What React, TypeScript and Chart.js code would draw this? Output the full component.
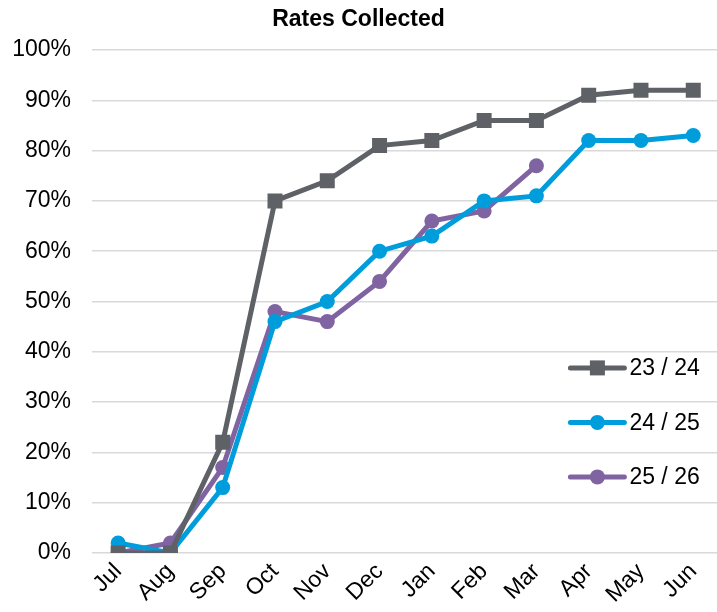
import React, { useEffect, useRef } from "react";
import { Chart, registerables } from "chart.js";

Chart.register(...registerables);

const titleText = "Rates Collected";
const months = ["Jul", "Aug", "Sep", "Oct", "Nov", "Dec", "Jan", "Feb", "Mar", "Apr", "May", "Jun"];
const labels2324 = "23 / 24";
const labels2425 = "24 / 25";
const labels2526 = "25 / 26";
const values2324 = [0, 0, 22, 70, 74, 81, 82, 86, 86, 91, 92, 92];
const values2425 = [2, 0, 13, 46, 50, 60, 63, 70, 71, 82, 82, 83];
const values2526 = [0, 2, 17, 48, 46, 54, 66, 68, 77];
const yTicks = [0, 10, 20, 30, 40, 50, 60, 70, 80, 90, 100];

const FONT = "'Liberation Sans', Arial, sans-serif";
const VIEW_W = 717;

const overlayPlugin = {
  id: "overlay",
  afterDraw(chart: any) {
    const ctx = chart.ctx;
    ctx.save();
    // title
    ctx.fillStyle = "#000";
    ctx.font = `bold 23px ${FONT}`;
    ctx.textAlign = "center";
    ctx.textBaseline = "middle";
    ctx.fillText(titleText, VIEW_W / 2, 20);

    // legend
    const ys = chart.scales.y;
    const baseY = ys.getPixelForValue(36.8);
    chart.data.datasets.forEach((ds: any, i: number) => {
      const y = baseY + i * 54.5;
      const x0 = chart.chartArea.right - 149;
      const x1 = x0 + 54;
      ctx.strokeStyle = ds.borderColor;
      ctx.lineWidth = 5;
      ctx.lineCap = "round";
      ctx.beginPath();
      ctx.moveTo(x0, y);
      ctx.lineTo(x1, y);
      ctx.stroke();
      ctx.fillStyle = ds.borderColor;
      const cx = (x0 + x1) / 2;
      if (ds.pointStyle === "rect") {
        ctx.fillRect(cx - 7.5, y - 7.5, 15, 15);
      } else {
        ctx.beginPath();
        ctx.arc(cx, y, 7.5, 0, Math.PI * 2);
        ctx.fill();
      }
      ctx.fillStyle = "#000";
      ctx.font = `23px ${FONT}`;
      ctx.textBaseline = "middle";
      ctx.textAlign = "left";
      ctx.fillText(ds.label, x1 + 5, y + 1);
    });
    ctx.restore();
  },
};

export default function App() {
  const ref = useRef<HTMLCanvasElement | null>(null);
  useEffect(() => {
    if (!ref.current) return;
    const chart = new Chart(ref.current, {
      type: "line",
      data: {
        labels: months,
        datasets: [
          {
            label: labels2324,
            data: values2324,
            borderColor: "#5e6166",
            backgroundColor: "#5e6166",
            borderWidth: 5,
            pointStyle: "rect",
            pointRadius: 10.6,
            pointBorderWidth: 0,
          },
          {
            label: labels2425,
            data: values2425,
            borderColor: "#009ddc",
            backgroundColor: "#009ddc",
            borderWidth: 5,
            pointStyle: "circle",
            pointRadius: 7.5,
            pointBorderWidth: 0,
          },
          {
            label: labels2526,
            data: values2526,
            borderColor: "#8064a2",
            backgroundColor: "#8064a2",
            borderWidth: 5,
            pointStyle: "circle",
            pointRadius: 7.5,
            pointBorderWidth: 0,
          },
        ],
      },
      options: {
        responsive: false,
        animation: false,
        layout: { padding: { top: 50, left: 0, right: 0, bottom: 0 } },
        plugins: {
          legend: { display: false },
          tooltip: { enabled: false },
          title: { display: false },
        },
        scales: {
          x: {
            offset: true,
            grid: { display: false, drawTicks: false },
            border: { display: false },
            ticks: {
              color: "#000",
              font: { family: FONT, size: 23 },
              maxRotation: 45,
              minRotation: 45,
              autoSkip: false,
              padding: 5,
            },
            afterFit(scale: any) {
              scale.height = 59;
            },
          },
          y: {
            min: 0,
            max: 100,
            grid: { color: "#d9d9d9", lineWidth: 1.5, drawTicks: false },
            border: { display: false },
            afterBuildTicks(scale: any) {
              scale.ticks = yTicks.map((v) => ({ value: v }));
            },
            ticks: {
              color: "#000",
              font: { family: FONT, size: 23 },
              padding: 21,
              callback: (v: any) => `${v}%`,
            },
            afterFit(scale: any) {
              scale.width = 92;
            },
          },
        },
      },
      plugins: [overlayPlugin],
    });
    return () => chart.destroy();
  }, []);
  return (
    <div style={{ position: "fixed", left: 0, top: 0, width: VIEW_W, height: 612, overflow: "hidden", background: "#fff" }}>
      <canvas ref={ref} width={730} height={612} style={{ display: "block" }} />
    </div>
  );
}
